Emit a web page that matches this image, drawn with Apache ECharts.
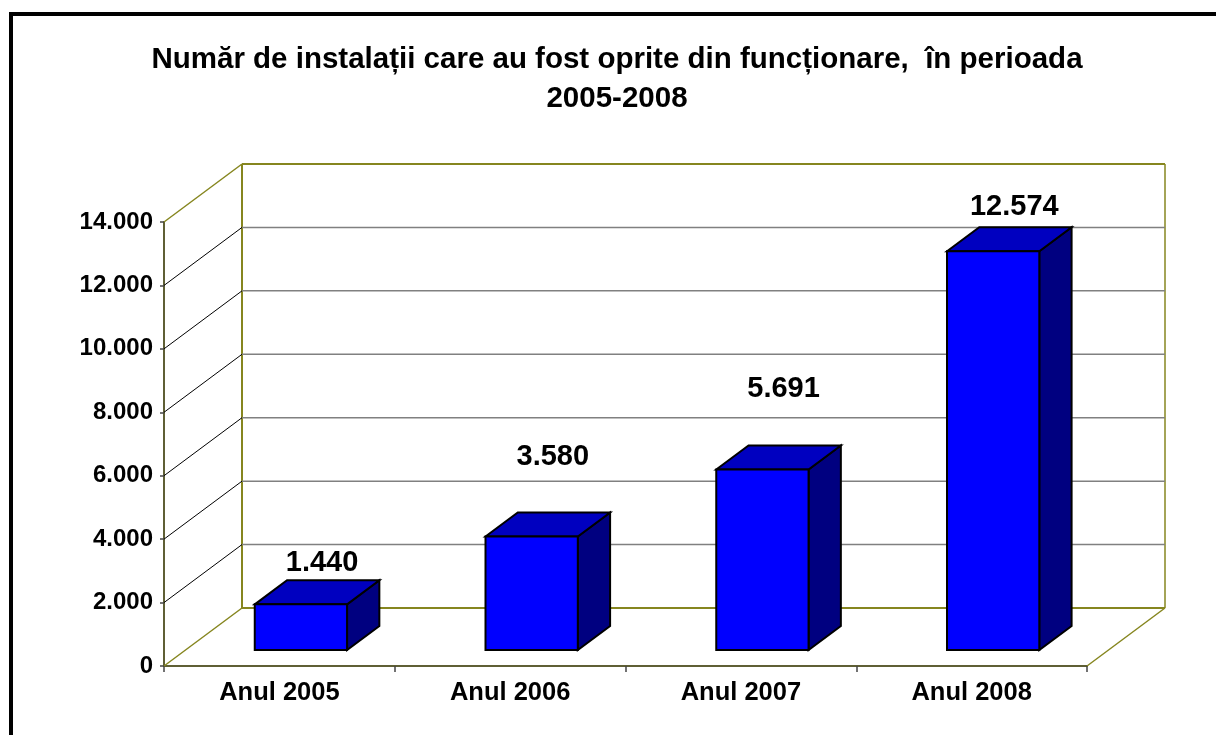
<!DOCTYPE html>
<html>
<head>
<meta charset="utf-8">
<script src="https://cdn.jsdelivr.net/npm/echarts@6/dist/echarts.min.js"></script>
<style>
html, body { margin: 0; padding: 0; background: #fff; }
#box { width: 1216px; height: 735px; }
</style>
</head>
<body>
<div id="box"></div>
<script>
var categories = ['Anul 2005', 'Anul 2006', 'Anul 2007', 'Anul 2008'];
var values = [1440, 3580, 5691, 12574];
var yTicks = [0, 2000, 4000, 6000, 8000, 10000, 12000, 14000];
var titleText = 'Număr de instalații care au fost oprite din funcționare,  în perioada\n2005-2008';

// 3D look: depth vector of the floor, and where the bars sit in it
var depth = [78, -58];
var barFront = 0.276;
var barBack = 0.69;
var barWidth = 0.4;
var labelLift = [17, 55, 56, 20];
var wallColor = '#86861f';
var axisColor = '#5f5f35';
var font = '"Liberation Sans", Arial, sans-serif';

function fmt(v) {
	return String(v).replace(/\B(?=(\d{3})+(?!\d))/g, '.');
}

function line(x1, y1, x2, y2, color, w) {
	return {
		type: 'line',
		shape: { x1: x1, y1: y1, x2: x2, y2: y2 },
		style: { stroke: color, lineWidth: w }
	};
}

function renderWall(params, api) {
	var rect = params.coordSys;
	var x0 = rect.x, x1 = rect.x + rect.width;
	var v = api.value(0);
	var y = api.coord([0, v])[1];
	var last = params.dataIndex == yTicks.length - 1;
	var edge = (params.dataIndex == 0 || last);
	var kids = [];
	kids.push(line(x0, y, x0 + depth[0], y + depth[1], edge ? wallColor : '#000', edge ? 1.5 : 1));
	kids.push(line(x0 + depth[0], y + depth[1], x1 + depth[0], y + depth[1], edge ? wallColor : '#808080', edge ? 2 : 1.5));
	if (params.dataIndex == 0) {
		var yt = api.coord([0, yTicks[yTicks.length - 1]])[1];
		kids.push(line(x0 + depth[0], y + depth[1], x0 + depth[0], yt + depth[1], wallColor, 2));
		kids.push(line(x1 + depth[0], y + depth[1], x1 + depth[0], yt + depth[1], wallColor, 1.5));
		kids.push(line(x1, y, x1 + depth[0], y + depth[1], wallColor, 1.5));
	}
	return { type: 'group', children: kids };
}

function renderBar(params, api) {
	var i = api.value(0);
	var top = api.coord([i, api.value(1)]);
	var base = api.coord([i, 0]);
	var bw = api.size([1, 0])[0] * barWidth;
	var fx = depth[0] * barFront, fy = depth[1] * barFront;
	var dx = depth[0] * (barBack - barFront), dy = depth[1] * (barBack - barFront);
	var l = top[0] - bw / 2 + fx, r = top[0] + bw / 2 + fx;
	var t = top[1] + fy, b = base[1] + fy;
	var st = { stroke: '#000', lineWidth: 2, lineJoin: 'miter' };
	return {
		type: 'group',
		children: [
			{ type: 'polygon', shape: { points: [[r, t], [r + dx, t + dy], [r + dx, b + dy], [r, b]] },
				style: Object.assign({ fill: '#000080' }, st) },
			{ type: 'polygon', shape: { points: [[l, t], [l + dx, t + dy], [r + dx, t + dy], [r, t]] },
				style: Object.assign({ fill: '#0000c0' }, st) },
			{ type: 'rect', shape: { x: l, y: t, width: r - l, height: b - t },
				style: Object.assign({ fill: '#0000ff' }, st) },
			{ type: 'text', style: {
				text: fmt(api.value(1)), x: (l + r + dx) / 2 + 5, y: t + dy - labelLift[params.dataIndex],
				align: 'center', verticalAlign: 'middle', fill: '#000',
				font: 'bold 29px ' + font } }
		]
	};
}

var myChart = echarts.init(document.getElementById('box'));
var option = {
	animation: false,
	graphic: [
		{ type: 'rect', z: -10, shape: { x: 11, y: 14, width: 1400, height: 1000 },
			style: { fill: 'none', stroke: '#000', lineWidth: 4 } },
		{ type: 'text', style: { text: titleText, x: 617, y: 79, align: 'center', verticalAlign: 'middle',
			font: 'bold 29.5px ' + font, lineHeight: 39, fill: '#000' } }
	],
	grid: { left: 164, right: 129, top: 222, bottom: 69 },
	xAxis: {
		type: 'category',
		data: categories,
		axisLine: { lineStyle: { color: axisColor, width: 2 } },
		axisTick: { show: true, length: 6, lineStyle: { color: '#444', width: 1.5 } },
		axisLabel: { margin: 14, color: '#000', fontWeight: 'bold', fontSize: 25.5, fontFamily: font }
	},
	yAxis: {
		type: 'value',
		min: yTicks[0],
		max: yTicks[yTicks.length - 1],
		interval: 2000,
		axisLine: { show: true, lineStyle: { color: axisColor, width: 2 } },
		axisTick: { show: true, length: 4, lineStyle: { color: '#444', width: 1.5 } },
		splitLine: { show: false },
		axisLabel: { margin: 11, color: '#000', fontWeight: 'bold', fontSize: 24, fontFamily: font,
			formatter: fmt }
	},
	series: [
		{ type: 'custom', z: 1, clip: false, renderItem: renderWall, data: yTicks.map(function (v) { return [v]; }) },
		{ type: 'custom', z: 5, clip: false, renderItem: renderBar,
			data: values.map(function (v, i) { return [i, v]; }) }
	]
};
myChart.setOption(option);
</script>
</body>
</html>
